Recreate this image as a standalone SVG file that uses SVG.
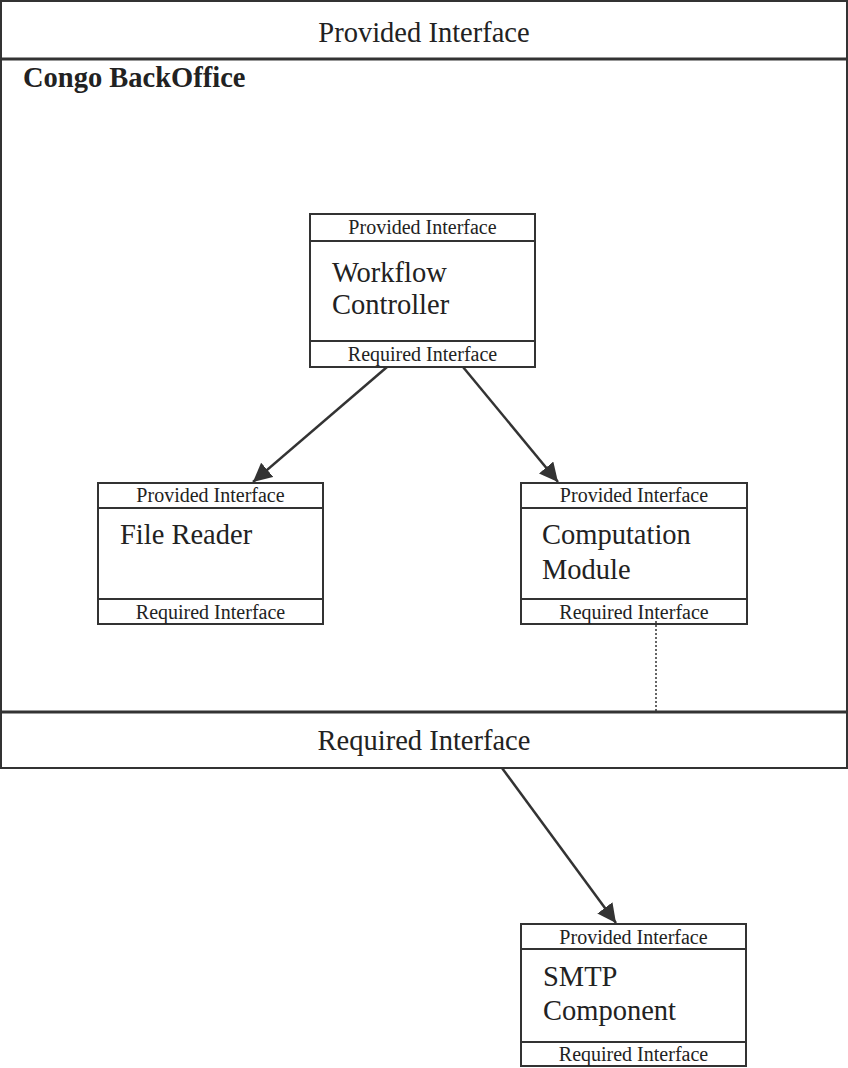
<svg xmlns="http://www.w3.org/2000/svg" width="848" height="1068" viewBox="0 0 848 1068">
<defs>
<style>
.box{fill:#fff;stroke:#333;stroke-width:2}
.sep{stroke:#333;stroke-width:2;fill:none}
.thick{stroke:#333;stroke-width:3;fill:none}
.t{font-family:"Liberation Serif","Times New Roman",serif;fill:#222}
.big{font-size:28.5px}
.small{font-size:20px}
.edge{stroke:#333;stroke-width:2.5;fill:none;marker-end:url(#arr)}
.dot{stroke:#333;stroke-width:1.5;stroke-dasharray:2,2;fill:none}
</style>
<marker id="arr" viewBox="0 0 10 10" refX="10" refY="5" markerWidth="7.5" markerHeight="7.5" markerUnits="strokeWidth" orient="auto">
<path d="M0,0 L10,5 L0,10 z" fill="#333"/>
</marker>
</defs>
<g id="backoffice">
<rect class="box" x="1" y="1" width="846" height="767"/>
<line class="thick" x1="1" y1="59" x2="847" y2="59"/>
<line class="thick" x1="1" y1="712" x2="847" y2="712"/>
<text class="t big" x="424" y="42" text-anchor="middle">Provided Interface</text>
<text class="t" x="23" y="87" font-size="28.5" font-weight="bold">Congo BackOffice</text>
<text class="t big" x="424" y="750" text-anchor="middle">Required Interface</text>
</g>
<g id="workflow">
<rect class="box" x="310" y="214" width="225" height="153"/>
<line class="sep" x1="310" y1="241" x2="535" y2="241"/>
<line class="sep" x1="310" y1="341" x2="535" y2="341"/>
<text class="t small" x="422.5" y="234" text-anchor="middle">Provided Interface</text>
<text class="t big" x="332" y="282">Workflow</text>
<text class="t big" x="332" y="314">Controller</text>
<text class="t small" x="422.5" y="361" text-anchor="middle">Required Interface</text>
</g>
<g id="filereader">
<rect class="box" x="98" y="483" width="225" height="141"/>
<line class="sep" x1="98" y1="508" x2="323" y2="508"/>
<line class="sep" x1="98" y1="599" x2="323" y2="599"/>
<text class="t small" x="210.5" y="502" text-anchor="middle">Provided Interface</text>
<text class="t big" x="120" y="544">File Reader</text>
<text class="t small" x="210.5" y="619" text-anchor="middle">Required Interface</text>
</g>
<g id="computation">
<rect class="box" x="521" y="483" width="226" height="141"/>
<line class="sep" x1="521" y1="508" x2="747" y2="508"/>
<line class="sep" x1="521" y1="599" x2="747" y2="599"/>
<text class="t small" x="634" y="502" text-anchor="middle">Provided Interface</text>
<text class="t big" x="542" y="544">Computation</text>
<text class="t big" x="542" y="579">Module</text>
<text class="t small" x="634" y="619" text-anchor="middle">Required Interface</text>
</g>
<g id="smtp">
<rect class="box" x="521" y="924" width="225" height="142"/>
<line class="sep" x1="521" y1="949" x2="746" y2="949"/>
<line class="sep" x1="521" y1="1042" x2="746" y2="1042"/>
<text class="t small" x="633.5" y="944" text-anchor="middle">Provided Interface</text>
<text class="t big" x="543" y="986">SMTP</text>
<text class="t big" x="543" y="1020">Component</text>
<text class="t small" x="633.5" y="1061" text-anchor="middle">Required Interface</text>
</g>
<g id="connectors">
<line class="edge" x1="387" y1="367" x2="253" y2="482"/>
<line class="edge" x1="463" y1="367" x2="558" y2="482"/>
<line class="edge" x1="502" y1="768" x2="616" y2="923"/>
<line class="dot" x1="656" y1="621" x2="656" y2="711"/>
</g>
</svg>
